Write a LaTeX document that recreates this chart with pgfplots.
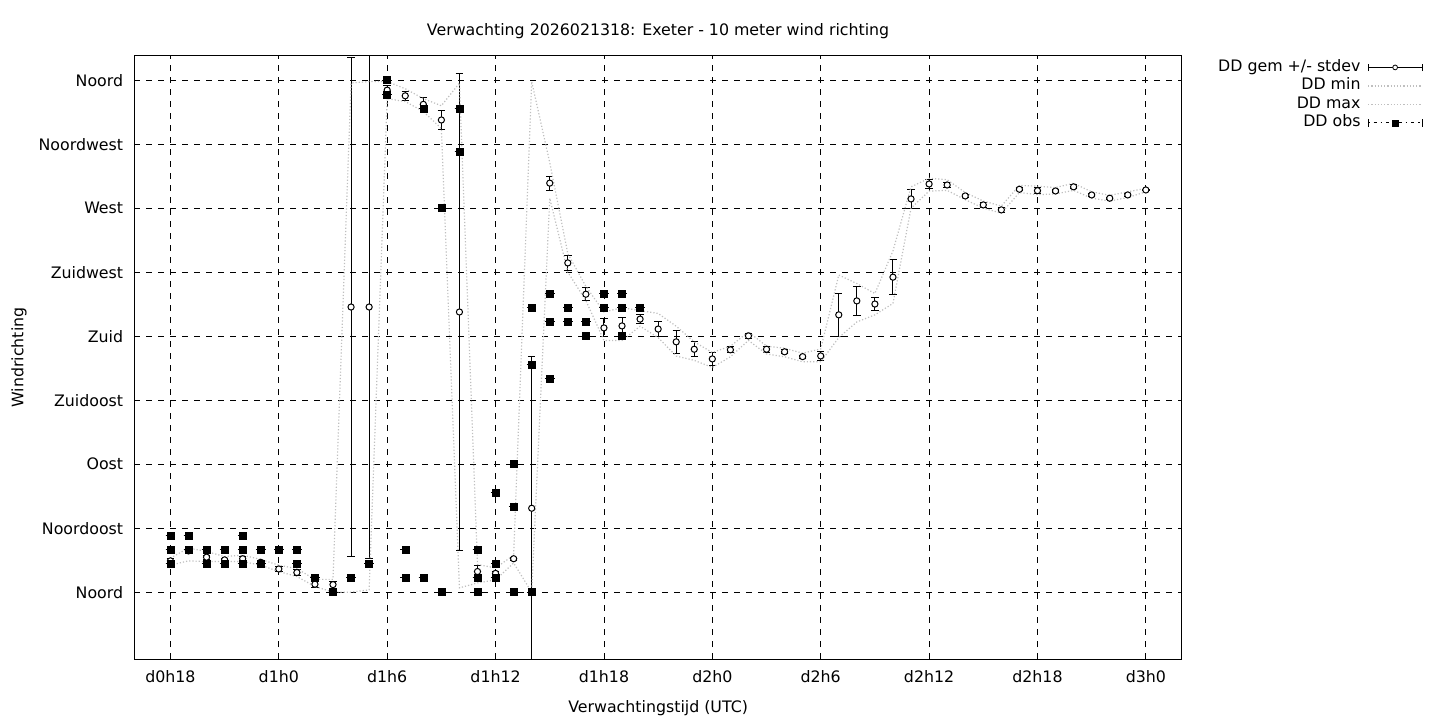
\documentclass[border=0pt]{standalone}
\usepackage{pgfplots}
\pgfplotsset{compat=1.18}
\usepackage{pgfplotstable}
\usepackage{fontspec}
\setmainfont{DejaVu Sans}

\pgfplotstableread{
h m s
18 22 1.5
19 29 2
20 24.6 1.5
21 22.7 1
22 23.5 1.5
23 21 1
24 16.3 1.5
25 13.8 2
26 5.6 2
27 5.3 2.5
28 200.5 175.5
29 200.5 177
30 353 3
31 349 3.3
32 343 4.5
33 332 6.5
34 197 167.5
35 14.5 4
36 13.2 1.5
37 23.5 1
38 59 107
39 287.6 5
40 231.5 5
41 209.5 4.5
42 185.8 6.3
43 187.2 5.7
44 192 3.4
45 185 5
46 176 8
47 170.8 5.3
48 164 4.8
49 170.4 2
50 180.2 1.5
51 170.8 2
52 169 1.5
53 165.6 1
54 166.1 3.2
55 195 15
56 204.8 10.3
57 202.6 4.5
58 221.5 12.3
59 276.5 6.6
60 287 3
61 286.3 2
62 278.6 1.2
63 272.3 1.5
64 268.8 1.5
65 283.3 1.2
66 282.3 2
67 282.1 1
68 285 1.5
69 279.3 1
70 277 0.8
71 279.3 1
72 282.8 0.5
}\meandata

\pgfplotstableread{
h lo hi
18 19 24
19 22 31
20 21.5 28.6
21 21.5 25
22 21.5 26
23 19 23
24 14.5 19
25 11 16.5
26 4 9
27 0 9
28 0 358
29 1.6 359
30 347 359
31 345 354
32 338 347
33 326 342
34 3 358
35 6.5 19.5
36 8.6 17
37 20.5 26
38 0 359
39 277 302
40 225 238
41 205 215
42 177 197
43 177 200
44 187 198
45 179 196
46 166 187
47 163 176
48 158 168.5
49 165.5 173
50 177 183
51 167.5 173
52 165.5 171.5
53 162 168
54 162 171
55 179 223
56 190 217
57 195 210
58 203 240
59 270 285
60 282 291
61 282.5 290
62 276 281
63 270 275
64 266.5 271.5
65 281 286
66 279.5 285.5
67 280 284.5
68 282.5 287.5
69 277 281.5
70 275 279
71 277.5 281.5
72 281.5 284
}\minmax

\pgfplotstableread{
h v
18 40
18 30
18 20
19 40
19 30
20 30
20 20
21 30
21 20
22 40
22 30
22 20
23 30
23 20
24 30
25 30
25 20
26 10
27 0
28 10
29 20
30 360
30 350
31 30
31 10
32 340
32 10
33 270
33 0
34 340
34 310
35 30
35 10
35 0
36 70
36 20
36 10
37 90
37 60
37 0
38 200
38 160
38 0
39 210
39 190
39 150
40 200
40 190
41 190
41 180
42 210
42 200
43 210
43 200
43 180
44 200
}\obsdata

\begin{document}
\begin{tikzpicture}
\path[use as bounding box] (0pt,0pt) rectangle (1440pt,720pt);
\begin{axis}[
  at={(134.3pt,61pt)}, anchor=south west,
  scale only axis, width=1047.7pt, height=603pt,
  xmin=16, xmax=74, ymin=-47, ymax=377,
  font=\fontsize{15.8}{18}\selectfont,
  xtick={18,24,...,72},
  xticklabels={d0h18,d1h0,d1h6,d1h12,d1h18,d2h0,d2h6,d2h12,d2h18,d3h0},
  ytick={0,45,...,360},
  yticklabels={Noord,Noordoost,Oost,Zuidoost,Zuid,Zuidwest,West,Noordwest,Noord},
  xticklabel style={anchor=base, inner sep=0pt, yshift=-23pt},
  yticklabel style={anchor=east, inner sep=0pt, xshift=-11pt},
  major tick length=0pt,
  axis line style={line width=1pt},
  grid=major,
  major grid style={black, dash pattern=on 6pt off 6pt, line width=0.9pt},
  title={Verwachting 2026021318: Exeter - 10 meter wind richting},
  title style={at={(axis description cs:0.5,1.0241)}, anchor=base, inner sep=0pt},
  xlabel={Verwachtingstijd (UTC)},
  xlabel style={at={(axis description cs:0.5,-0.0879)}, anchor=base, inner sep=0pt},
  ylabel={Windrichting},
  ylabel style={at={(axis description cs:-0.1058,0.5)}, anchor=base, inner sep=0pt},
  legend style={at={(axis description cs:1.2300,0.9967)}, anchor=north east, draw=none, fill=none,
    inner sep=0pt, row sep=0pt, column sep=5pt, font=\fontsize{15.8}{18}\selectfont,
    nodes={inner sep=2pt, text height=11pt, text depth=3.5pt}},
  legend cell align=right,
  legend plot pos=right,
]
\addplot[only marks, mark=*, mark size=3.1pt,
  mark options={draw=black, fill=white, line width=1pt},
  legend image code/.code={
    \draw[black, line width=1pt, solid] (0pt,0pt) -- (54pt,0pt);
    \draw[black, line width=1pt, solid] (0pt,-3.7pt) -- (0pt,3.7pt);
    \draw[black, line width=1pt, solid] (54pt,-3.7pt) -- (54pt,3.7pt);
    \draw[black, line width=0.8pt, solid, fill=white] (27pt,0pt) circle (2.4pt);},
  error bars/.cd, y dir=both, y explicit,
  error bar style={black, line width=1pt},
  error mark options={rotate=90, black, mark size=3.7pt, line width=1pt},
  ]
  table[x=h, y=m, y error=s] {\meandata};
\addlegendentry{DD gem +/- stdev}

\addplot[gray!50, dotted, line width=1.2pt,
  legend image code/.code={\draw[gray!50, dotted, line width=1.2pt] (0pt,0pt) -- (54pt,0pt);}]
  table[x=h, y=lo] {\minmax};
\addlegendentry{DD min}
\addplot[gray!50, dotted, line width=1.2pt,
  legend image code/.code={\draw[gray!50, dotted, line width=1.2pt] (0pt,0pt) -- (54pt,0pt);}]
  table[x=h, y=hi] {\minmax};
\addlegendentry{DD max}

\addplot[only marks, mark=square*, mark size=3.5pt,
  mark options={draw=black, fill=black},
  legend image code/.code={
    \draw[black, line width=1pt, dash pattern=on 1.5pt off 4pt on 3pt off 4pt] (0pt,0pt) -- (54pt,0pt);
    \draw[black, line width=1pt, solid] (0pt,-3.7pt) -- (0pt,3.7pt);
    \draw[black, line width=1pt, solid] (54pt,-3.7pt) -- (54pt,3.7pt);
    \fill[black] (23.8pt,-3.2pt) rectangle (30.2pt,3.2pt);},
  error bars/.cd, y dir=both, y fixed=0,
  error bar style={black, line width=1pt},
  error mark options={rotate=90, black, mark size=4.8pt, line width=1pt},
  ]
  table[x=h, y=v] {\obsdata};
\addlegendentry{DD obs}
\end{axis}
\end{tikzpicture}
\end{document}
